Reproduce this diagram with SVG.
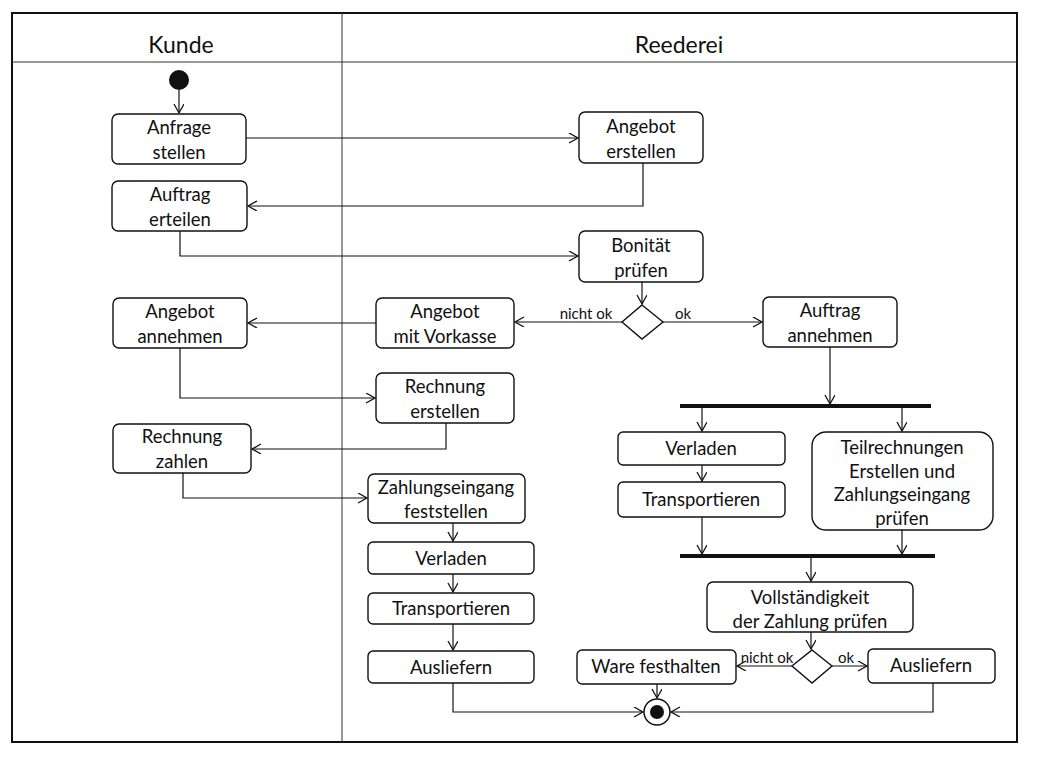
<svg xmlns="http://www.w3.org/2000/svg" width="1042" height="759" viewBox="0 0 1042 759">
<defs>
<marker id="arr" markerWidth="12" markerHeight="12" refX="10" refY="5" orient="auto" markerUnits="userSpaceOnUse">
<path d="M1,0 L10,5 L1,10" fill="none" stroke="#111" stroke-width="1.3"/>
</marker>
<style>
.frame{fill:none;stroke:#111;stroke-width:2}
.lane{fill:none;stroke:#333;stroke-width:1}
.box{fill:#fff;stroke:#111;stroke-width:1.4}
.t{font-family:Lato,"Liberation Sans",sans-serif;font-size:18.5px;fill:#111;text-anchor:middle}
.h{font-family:Lato,"Liberation Sans",sans-serif;font-size:23px;fill:#111;text-anchor:middle}
.l{font-family:Lato,"Liberation Sans",sans-serif;font-size:15px;fill:#111;text-anchor:middle}
.c{fill:none;stroke:#111;stroke-width:1.2;marker-end:url(#arr)}
.bar{stroke:#111;stroke-width:4}
</style>
</defs>
<rect width="1042" height="759" fill="#fff"/>
<g id="lanes">
<rect class="frame" x="12" y="13" width="1005" height="729"/>
<line class="lane" x1="12" y1="62" x2="1017" y2="62"/>
<line class="lane" x1="342" y1="13" x2="342" y2="742"/>
<text class="h" x="181" y="53">Kunde</text>
<text class="h" x="679" y="53">Reederei</text>
</g>
<g id="connectors">
<line class="c" x1="179" y1="90" x2="179" y2="113"/>
<line class="c" x1="246" y1="138" x2="578" y2="138"/>
<path class="c" d="M643,163 V206 H248"/>
<path class="c" d="M180,231 V256 H578"/>
<line class="c" x1="642" y1="282" x2="642" y2="304"/>
<line class="c" x1="622" y1="322" x2="515" y2="322"/>
<line class="c" x1="663" y1="322" x2="762" y2="322"/>
<line class="c" x1="376" y1="323" x2="248" y2="323"/>
<path class="c" d="M180,348 V398 H375"/>
<path class="c" d="M446,423 V449 H252"/>
<path class="c" d="M183,473 V498 H367"/>
<line class="c" x1="453" y1="523" x2="453" y2="541"/>
<line class="c" x1="453" y1="574" x2="453" y2="592"/>
<line class="c" x1="453" y1="624" x2="453" y2="650"/>
<path class="c" d="M453,683 V712 H643"/>
<line class="c" x1="830" y1="347" x2="830" y2="404"/>
<line class="c" x1="702" y1="408" x2="702" y2="431"/>
<line class="c" x1="902" y1="408" x2="902" y2="431"/>
<line class="c" x1="702" y1="465" x2="702" y2="481"/>
<line class="c" x1="702" y1="517" x2="702" y2="554"/>
<line class="c" x1="902" y1="530" x2="902" y2="554"/>
<line class="c" x1="811" y1="558" x2="811" y2="581"/>
<line class="c" x1="811" y1="632" x2="811" y2="649"/>
<line class="c" x1="792" y1="666" x2="737" y2="666"/>
<line class="c" x1="832" y1="666" x2="867" y2="666"/>
<line class="c" x1="657" y1="684" x2="657" y2="698"/>
<path class="c" d="M933,683 V712 H671"/>
<line class="bar" x1="680" y1="406" x2="931" y2="406"/>
<line class="bar" x1="680" y1="556" x2="935" y2="556"/>
<text class="l" x="586" y="319">nicht ok</text>
<text class="l" x="683" y="319">ok</text>
<text class="l" x="767" y="663">nicht ok</text>
<text class="l" x="846" y="663">ok</text>
</g>
<g id="start"><circle cx="179" cy="80" r="10" fill="#111"/></g>
<g id="anfrage"><rect class="box" x="112" y="114" width="134" height="50" rx="6"/><text class="t" x="179" y="134">Anfrage</text><text class="t" x="179" y="159">stellen</text></g>
<g id="auftrag-erteilen"><rect class="box" x="112" y="181" width="135" height="50" rx="6"/><text class="t" x="180" y="201">Auftrag</text><text class="t" x="180" y="226">erteilen</text></g>
<g id="angebot-erstellen"><rect class="box" x="579" y="112" width="124" height="51" rx="6"/><text class="t" x="641" y="133">Angebot</text><text class="t" x="641" y="158">erstellen</text></g>
<g id="bonitaet"><rect class="box" x="579" y="231" width="124" height="51" rx="6"/><text class="t" x="641" y="252">Bonität</text><text class="t" x="641" y="277">prüfen</text></g>
<g id="decision1"><polygon class="box" points="642,305 663,322 642,339 622,322"/></g>
<g id="vorkasse"><rect class="box" x="376" y="298" width="138" height="50" rx="6"/><text class="t" x="445" y="318">Angebot</text><text class="t" x="445" y="343">mit Vorkasse</text></g>
<g id="auftrag-annehmen"><rect class="box" x="763" y="297" width="134" height="50" rx="6"/><text class="t" x="830" y="317">Auftrag</text><text class="t" x="830" y="342">annehmen</text></g>
<g id="angebot-annehmen"><rect class="box" x="113" y="298" width="134" height="50" rx="6"/><text class="t" x="180" y="318">Angebot</text><text class="t" x="180" y="343">annehmen</text></g>
<g id="rechnung-erstellen"><rect class="box" x="376" y="373" width="138" height="50" rx="6"/><text class="t" x="445" y="393">Rechnung</text><text class="t" x="445" y="418">erstellen</text></g>
<g id="rechnung-zahlen"><rect class="box" x="113" y="424" width="138" height="49" rx="6"/><text class="t" x="182" y="443">Rechnung</text><text class="t" x="182" y="468">zahlen</text></g>
<g id="zahlungseingang"><rect class="box" x="368" y="474" width="157" height="49" rx="6"/><text class="t" x="446" y="494">Zahlungseingang</text><text class="t" x="446" y="518">feststellen</text></g>
<g id="verladen1"><rect class="box" x="368" y="542" width="166" height="32" rx="5"/><text class="t" x="451" y="565">Verladen</text></g>
<g id="transportieren1"><rect class="box" x="368" y="593" width="166" height="31" rx="5"/><text class="t" x="451" y="615">Transportieren</text></g>
<g id="ausliefern1"><rect class="box" x="368" y="651" width="166" height="32" rx="5"/><text class="t" x="451" y="674">Ausliefern</text></g>
<g id="verladen2"><rect class="box" x="618" y="432" width="167" height="33" rx="5"/><text class="t" x="701" y="455">Verladen</text></g>
<g id="transportieren2"><rect class="box" x="618" y="482" width="167" height="35" rx="5"/><text class="t" x="701" y="506">Transportieren</text></g>
<g id="teilrechnungen"><rect class="box" x="812" y="432" width="181" height="98" rx="14"/><text class="t" x="902" y="454">Teilrechnungen</text><text class="t" x="902" y="478">Erstellen und</text><text class="t" x="902" y="501">Zahlungseingang</text><text class="t" x="902" y="525">prüfen</text></g>
<g id="vollstaendigkeit"><rect class="box" x="707" y="582" width="206" height="50" rx="6"/><text class="t" x="810" y="604">Vollständigkeit</text><text class="t" x="810" y="628">der Zahlung prüfen</text></g>
<g id="decision2"><polygon class="box" points="812,650 832,666 812,683 792,666"/></g>
<g id="ware-festhalten"><rect class="box" x="577" y="650" width="159" height="34" rx="5"/><text class="t" x="656" y="673">Ware festhalten</text></g>
<g id="ausliefern2"><rect class="box" x="868" y="649" width="127" height="34" rx="5"/><text class="t" x="931" y="672">Ausliefern</text></g>
<g id="end"><circle cx="657" cy="712" r="13" fill="#fff" stroke="#111" stroke-width="1.5"/><circle cx="657" cy="712" r="7" fill="#111"/></g>
</svg>
